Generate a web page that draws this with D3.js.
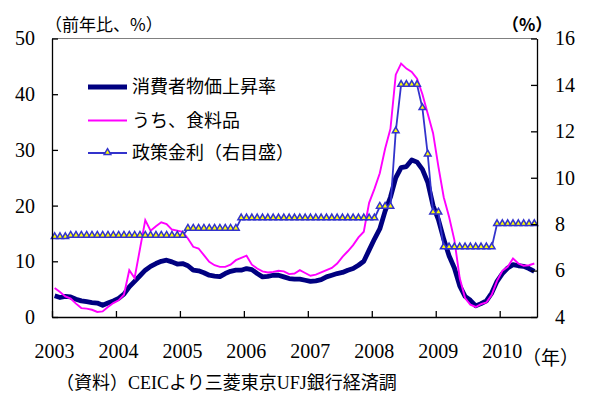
<!DOCTYPE html>
<html>
<head>
<meta charset="utf-8">
<script src="https://cdn.jsdelivr.net/npm/d3@7"></script>
<style>
  body { margin: 0; background: #fff; }
</style>
</head>
<body>
<svg width="592" height="397"></svg>
<script>
// monthly, Jan 2003 .. Jul 2010
const years = ['2003', '2004', '2005', '2006', '2007', '2008', '2009', '2010'];

// 消費者物価上昇率 (前年比, %)
const cpi = [
  3.8, 3.5, 3.7, 3.6, 3.2, 2.9, 2.75, 2.6, 2.5, 2.1, 2.5, 2.9,      // 2003
  3.35, 4.1, 5.4, 6.4, 7.4, 8.4, 9.1, 9.6, 10.0, 10.2, 9.9, 9.5,    // 2004
  9.6, 9.2, 8.4, 8.3, 7.95, 7.5, 7.35, 7.25, 7.8, 8.2, 8.4, 8.4,    // 2005
  8.7, 8.5, 7.8, 7.2, 7.3, 7.5, 7.5, 7.2, 6.9, 6.8, 6.8, 6.6,       // 2006
  6.4, 6.5, 6.7, 7.2, 7.5, 7.8, 8.0, 8.4, 8.7, 9.3, 10.0, 12.0,     // 2007
  14.0, 15.8, 19.0, 21.5, 25.0, 26.8, 27.0, 28.2, 27.8, 26.5, 24.2, 20.0, // 2008
  17.5, 14.0, 11.0, 8.8, 5.6, 3.7, 3.0, 2.0, 2.4, 2.9, 4.3, 6.4,    // 2009
  7.8, 8.8, 9.4, 9.2, 9.1, 8.7, 8.2                                  // 2010
];

// うち、食料品 (前年比, %)
const food = [
  5.2, 4.5, 3.7, 3.3, 2.4, 1.6, 1.5, 1.3, 0.9, 1.0, 1.8, 2.5,
  3.0, 4.0, 8.4, 7.0, 12.2, 17.4, 15.5, 16.3, 17.0, 16.7, 15.7, 15.5,
  15.3, 14.1, 12.6, 12.3, 11.1, 9.9, 9.3, 9.0, 9.0, 9.4, 10.2, 10.6,
  11.0, 9.4, 8.7, 8.2, 8.0, 8.1, 8.3, 8.2, 7.7, 7.8, 8.4, 7.9,
  7.4, 7.6, 8.0, 8.4, 8.8, 9.6, 10.8, 11.8, 12.9, 14.3, 15.3, 20.5,
  23.0, 25.8, 30.2, 33.8, 43.5, 45.5, 44.6, 44.0, 42.8, 40.0, 36.5, 33.0,
  27.0, 21.5, 18.0, 13.8, 7.0, 3.4, 2.2, 1.8, 2.3, 2.6, 4.0, 6.5,
  8.3, 9.0, 10.5, 9.6, 9.2, 9.3, 9.6
];

// 政策金利 (右目盛, %)
const policy = [
  7.44, 7.44, 7.44, 7.5, 7.5, 7.5, 7.5, 7.5, 7.5, 7.5, 7.5, 7.5,
  7.5, 7.5, 7.5, 7.5, 7.5, 7.5, 7.5, 7.5, 7.5, 7.5, 7.5, 7.5,
  7.5, 7.8, 7.8, 7.8, 7.8, 7.8, 7.8, 7.8, 7.8, 7.8, 7.8, 8.25,
  8.25, 8.25, 8.25, 8.25, 8.25, 8.25, 8.25, 8.25, 8.25, 8.25, 8.25, 8.25,
  8.25, 8.25, 8.25, 8.25, 8.25, 8.25, 8.25, 8.25, 8.25, 8.25, 8.25, 8.25,
  8.25, 8.75, 8.75, 8.75, 12, 14, 14, 14, 14, 13, 11, 8.5,
  8.5, 7, 7, 7, 7, 7, 7, 7, 7, 7, 7, 8,
  8, 8, 8, 8, 8, 8, 8
];

const leftTicks = [0, 10, 20, 30, 40, 50];
const rightTicks = [4, 6, 8, 10, 12, 14, 16];
const legendLabels = ['消費者物価上昇率', 'うち、食料品', '政策金利（右目盛）'];

const numFont = '"Liberation Serif", "Times New Roman", serif';
const jpFont = '"Noto Sans CJK JP", sans-serif';

const plotL = 52, plotR = 537, plotT = 38.5, plotB = 317;
const svg = d3.select('svg');

const x = d3.scaleLinear().domain([0, cpi.length]).range([plotL, plotR]);
const yL = d3.scaleLinear().domain([0, 50]).range([plotB, plotT]);
const yR = d3.scaleLinear().domain([4, 16]).range([plotB, plotT]);

// top frame line
svg.append('line')
  .attr('x1', plotL).attr('x2', plotR)
  .attr('y1', plotT).attr('y2', plotT)
  .attr('stroke', '#808080').attr('stroke-width', 1);

// series
const lineL = d3.line().x((d, i) => x(i + 0.5)).y(d => yL(d));
const lineR = d3.line().x((d, i) => x(i + 0.5)).y(d => yR(d));

svg.append('path')
  .attr('d', lineL(cpi))
  .attr('fill', 'none')
  .attr('stroke', '#000080')
  .attr('stroke-width', 4.8)
  .attr('stroke-linejoin', 'round');

svg.append('path')
  .attr('d', lineL(food))
  .attr('fill', 'none')
  .attr('stroke', '#ff00ff')
  .attr('stroke-width', 1.9);

svg.append('path')
  .attr('d', lineR(policy))
  .attr('fill', 'none')
  .attr('stroke', '#3333cc')
  .attr('stroke-width', 1.8);

const tri = d3.symbol(d3.symbolTriangle, 19);
svg.append('g')
  .selectAll('path')
  .data(policy)
  .join('path')
  .attr('d', tri)
  .attr('transform', (d, i) => `translate(${x(i + 0.5)},${yR(d) - 0.5})`)
  .attr('fill', '#ffff00')
  .attr('stroke', '#3333cc')
  .attr('stroke-width', 1.5);

// axes
function styleAxis(g) {
  g.attr('font-size', 20).attr('font-family', numFont);
  g.selectAll('line, path').attr('stroke', '#000').attr('stroke-width', 1.3);
  g.selectAll('text').attr('fill', '#000');
}

svg.append('g')
  .attr('transform', `translate(${plotL},0)`)
  .call(d3.axisLeft(yL).tickValues(leftTicks).tickSize(-6).tickSizeOuter(0).tickPadding(17))
  .call(styleAxis);

svg.append('g')
  .attr('transform', `translate(${plotR},0)`)
  .call(d3.axisRight(yR).tickValues(rightTicks).tickSize(-6).tickSizeOuter(0).tickPadding(18))
  .call(styleAxis);

svg.append('g')
  .attr('transform', `translate(0,${plotB})`)
  .call(d3.axisBottom(x).tickValues(years.map((y, i) => i * 12))
    .tickFormat((d, i) => years[i]).tickSize(-6).tickSizeOuter(0).tickPadding(27))
  .call(styleAxis)
  .call(g => g.selectAll('text').attr('dx', 2));

// unit labels
svg.append('text')
  .attr('x', 45).attr('y', 31)
  .attr('font-family', jpFont).attr('font-size', 17)
  .text('（前年比、%）');

svg.append('text')
  .attr('x', 502).attr('y', 31)
  .attr('font-family', jpFont).attr('font-size', 17)
  .attr('font-weight', 'bold')
  .text('（%）');

svg.append('text')
  .attr('x', 522).attr('y', 365)
  .attr('font-family', jpFont).attr('font-size', 19)
  .text('（年）');

svg.append('text')
  .attr('x', 56).attr('y', 389)
  .attr('font-family', `"Liberation Serif", "Noto Sans CJK JP"`).attr('font-size', 18)
  .text('（資料）CEICより三菱東京UFJ銀行経済調');

// legend
const legY = [87, 120.5, 153];
const leg = svg.append('g');
leg.append('line')
  .attr('x1', 88).attr('x2', 127).attr('y1', legY[0]).attr('y2', legY[0])
  .attr('stroke', '#000080').attr('stroke-width', 4.8);
leg.append('line')
  .attr('x1', 88).attr('x2', 127).attr('y1', legY[1]).attr('y2', legY[1])
  .attr('stroke', '#ff00ff').attr('stroke-width', 1.9);
leg.append('line')
  .attr('x1', 88).attr('x2', 127).attr('y1', legY[2]).attr('y2', legY[2])
  .attr('stroke', '#3333cc').attr('stroke-width', 1.8);
leg.append('path')
  .attr('d', tri)
  .attr('transform', `translate(107.5,${legY[2] - 0.5})`)
  .attr('fill', '#ffff00').attr('stroke', '#3333cc').attr('stroke-width', 1.5);

leg.selectAll('text')
  .data(legendLabels)
  .join('text')
  .attr('x', 132)
  .attr('y', (d, i) => legY[i])
  .attr('dy', '0.36em')
  .attr('font-family', jpFont)
  .attr('font-size', 18)
  .text(d => d);
</script>
</body>
</html>
